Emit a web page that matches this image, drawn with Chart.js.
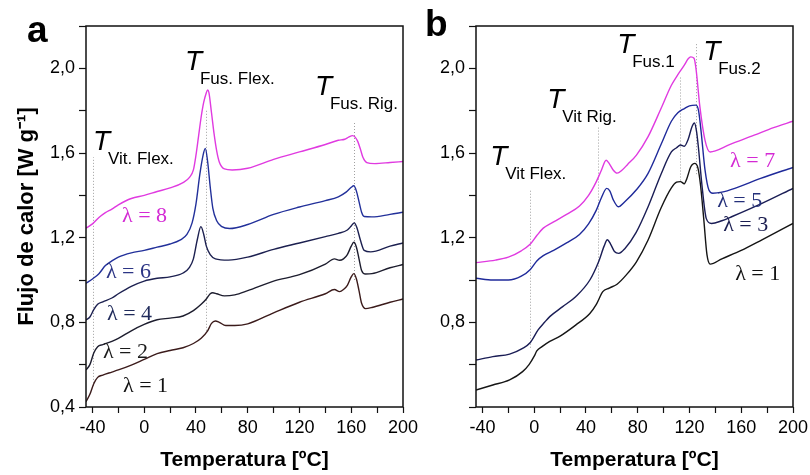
<!DOCTYPE html>
<html>
<head>
<meta charset="utf-8">
<script src="https://cdn.jsdelivr.net/npm/chart.js@4.4.1/dist/chart.umd.min.js"></script>
<style>
  html, body { margin: 0; padding: 0; background: #fff; }
  #wrap { position: relative; width: 810px; height: 475px; overflow: hidden; }
  .panel { position: absolute; top: 0; height: 475px; }
  #panelA { left: 0; width: 430px; }
  #panelB { left: 410px; width: 400px; }
</style>
</head>
<body>
<div id="wrap">
  <div class="panel" id="panelA"><canvas id="chartA" width="430" height="475"></canvas></div>
  <div class="panel" id="panelB"><canvas id="chartB" width="400" height="475"></canvas></div>
</div>
<script>
// ---- panel a : DSC curves, lambda = 8, 6, 4, 2, 1
const tempA8 = [-45,-40,-35,-30,-25,-20,-10,0,10,20,30,35,38,40,42,44,46,48,49,50,52,54,56,58,62,68,80,100,120,140,150,155,158,161,163,165,167,169,172,178,190,200];
const flowA8 = [1.245,1.265,1.295,1.318,1.335,1.355,1.385,1.400,1.418,1.435,1.460,1.485,1.520,1.590,1.680,1.770,1.840,1.885,1.898,1.885,1.790,1.690,1.610,1.558,1.525,1.520,1.528,1.570,1.605,1.640,1.660,1.665,1.675,1.682,1.675,1.655,1.620,1.580,1.555,1.550,1.555,1.560];

const tempA6 = [-45,-40,-35,-30,-25,-20,-10,0,10,20,28,33,37,40,43,45.5,47.2,49,51,53,56,60,66,80,100,120,140,150,156,160,162,164,166,168,170,176,190,200];
const flowA6 = [0.984,1.005,1.030,1.068,1.090,1.108,1.128,1.140,1.155,1.170,1.190,1.215,1.270,1.360,1.500,1.590,1.622,1.560,1.440,1.340,1.280,1.252,1.243,1.262,1.310,1.345,1.375,1.393,1.415,1.438,1.445,1.420,1.370,1.320,1.300,1.298,1.310,1.320];

const tempA4 = [-45,-42,-39,-36,-32,-25,-20,-10,0,10,20,30,35,38,41,43.8,46,48,51,55,65,80,100,120,140,150,157,160,162.3,164.5,167,170,175,190,200];
const flowA4 = [0.811,0.825,0.860,0.885,0.897,0.915,0.935,0.970,0.995,1.008,1.015,1.033,1.060,1.100,1.190,1.252,1.215,1.160,1.120,1.100,1.094,1.108,1.145,1.175,1.205,1.220,1.236,1.255,1.270,1.245,1.190,1.140,1.133,1.160,1.175];

const tempA2 = [-45,-42,-39,-36,-32,-25,-20,-10,0,10,20,30,38,44,48,51,53,56,62,70,80,100,120,140,147,151,154,157,160,162,164,166,168,171,176,190,200];
const flowA2 = [0.575,0.600,0.655,0.685,0.695,0.710,0.724,0.760,0.790,0.812,0.820,0.830,0.855,0.885,0.910,0.935,0.940,0.935,0.925,0.930,0.950,0.995,1.025,1.075,1.100,1.093,1.100,1.120,1.160,1.178,1.155,1.100,1.045,1.028,1.030,1.058,1.073];

const tempA1 = [-45,-42,-39,-36,-32,-25,-20,-10,0,10,20,30,38,44,49,52,55,58,63,70,80,100,120,140,147,151,154,157,160,162,164,166,168,171,176,190,200];
const flowA1 = [0.425,0.460,0.510,0.540,0.551,0.565,0.575,0.598,0.625,0.652,0.667,0.680,0.700,0.725,0.760,0.795,0.806,0.800,0.785,0.785,0.793,0.845,0.895,0.935,0.955,0.945,0.955,0.975,1.015,1.030,1.005,0.950,0.890,0.865,0.870,0.895,0.910];

// ---- panel b : lambda = 7, 5, 3, 1
const tempB7 = [-45,-30,-20,-10,-3,2,7,15,25,35,42,48,52,55.6,58,61,64,68,72,79,88,98,106,111,116,119,121,123.5,125,128,132,136,140,150,170,185,200];
const flowB7 = [1.082,1.094,1.108,1.138,1.170,1.210,1.245,1.275,1.310,1.350,1.400,1.465,1.520,1.566,1.550,1.520,1.505,1.520,1.545,1.590,1.677,1.810,1.920,1.970,2.015,2.045,2.054,2.048,2.000,1.820,1.660,1.605,1.610,1.637,1.684,1.720,1.750];

const tempB5 = [-45,-32,-20,-10,-3,2,7,15,25,35,42,48,52,56,58.5,61,65,70,78.8,88,98,106,111,116,120,125,127,129,132,135,138,145,155,175,200];
const flowB5 = [1.008,1.000,1.000,1.018,1.050,1.090,1.115,1.140,1.175,1.215,1.265,1.330,1.390,1.433,1.420,1.380,1.346,1.370,1.425,1.504,1.640,1.750,1.790,1.810,1.823,1.826,1.800,1.700,1.520,1.425,1.410,1.415,1.433,1.480,1.532];

const tempB3 = [-45,-32,-19,-9,-3,3,8,12,22,32,43,50,54,56.5,59,62,65.4,70,78.8,88,98,106,110,113,116,119,122,123.8,125.5,127,129.5,133,137,145,153,176,200];
const flowB3 = [0.622,0.638,0.650,0.677,0.705,0.764,0.800,0.827,0.874,0.921,1.000,1.090,1.160,1.190,1.170,1.135,1.126,1.148,1.225,1.346,1.500,1.605,1.625,1.638,1.632,1.665,1.725,1.742,1.700,1.620,1.456,1.290,1.267,1.280,1.300,1.362,1.433];

const tempB1 = [-45,-32,-19,-9,-4,0,2,6,12,20,32,43,48,53,58,64,71,79,88,98,106,110,113,116,118,121,124,126.5,128.5,131,133.5,136,145,160,176,200];
const flowB1 = [0.480,0.504,0.528,0.567,0.600,0.640,0.665,0.685,0.710,0.735,0.787,0.842,0.885,0.945,0.962,0.980,1.023,1.086,1.189,1.340,1.435,1.462,1.465,1.455,1.480,1.535,1.551,1.530,1.450,1.290,1.120,1.075,1.100,1.140,1.190,1.267];

// transition markers: [temperature, from flow, to flow]
const guidesA = [[-39.4, 0.50, 1.58], [47.7, 0.76, 1.80], [162, 1.00, 1.75]];
const guidesB = [[-3.6, 0.68, 1.43], [49.2, 0.95, 1.72], [112.8, 1.47, 1.96], [125.2, 1.50, 2.12]];

const SANS = '"Liberation Sans", Arial, sans-serif';
const SERIF = '"Liberation Serif", "Times New Roman", serif';

function series(temps, flows, color) {
  return {
    data: temps.map((t, i) => ({ x: t, y: flows[i] })),
    borderColor: color,
    borderWidth: 1.4,
    pointRadius: 0,
    cubicInterpolationMode: 'monotone',
    fill: false
  };
}

const decor = {
  id: 'decor',
  beforeDatasetsDraw(chart, args, opts) {
    const { ctx, scales: { x, y } } = chart;
    ctx.save();
    ctx.strokeStyle = '#a0a0a0';
    ctx.lineWidth = 1;
    ctx.setLineDash([1, 2]);
    opts.guides.forEach(g => {
      const px = Math.round(x.getPixelForValue(g[0])) + 0.5;
      ctx.beginPath();
      ctx.moveTo(px, y.getPixelForValue(g[1]));
      ctx.lineTo(px, y.getPixelForValue(g[2]));
      ctx.stroke();
    });
    ctx.restore();
  },
  afterDraw(chart, args, opts) {
    const { ctx, chartArea: a, scales: { x, y } } = chart;
    ctx.save();
    ctx.strokeStyle = '#111';
    ctx.lineWidth = 1.5;
    ctx.strokeRect(a.left, a.top, a.right - a.left, a.bottom - a.top);

    ctx.textBaseline = 'alphabetic';
    ctx.textAlign = 'left';
    ctx.fillStyle = '#000';
    opts.marks.forEach(m => {
      const px = x.getPixelForValue(m.at[0]);
      const py = y.getPixelForValue(m.at[1]);
      ctx.font = 'italic 28px ' + SANS;
      ctx.fillText('T', px, py);
      ctx.font = '17px ' + SANS;
      ctx.fillText(m.sub, px + 15, py + 14);
    });

    ctx.font = '22px ' + SERIF;
    opts.lambdas.forEach(l => {
      ctx.fillStyle = l.color;
      ctx.fillText('\u03bb = ' + l.n, x.getPixelForValue(l.at[0]), y.getPixelForValue(l.at[1]));
    });

    ctx.fillStyle = '#000';
    ctx.font = 'bold 37px ' + SANS;
    ctx.fillText(opts.letter, a.left + opts.letterAt[0], a.top + opts.letterAt[1]);
    ctx.restore();
  }
};

function scalesFor(axisWidth, showLowest, yTitle) {
  return {
    x: {
      type: 'linear',
      min: -45,
      max: 200,
      ticks: {
        stepSize: 20,
        includeBounds: false,
        autoSkip: false,
        maxRotation: 0,
        padding: 4,
        color: '#000',
        font: { family: SANS, size: 18 },
        callback: v => (v % 40 === 0 ? String(v) : '')
      },
      grid: { drawOnChartArea: false, drawTicks: true, tickLength: 6, tickColor: '#111', tickWidth: 1.2 },
      border: { display: false },
      title: {
        display: true,
        text: 'Temperatura [\u00baC]',
        color: '#000',
        font: { family: SANS, size: 21, weight: 'bold' },
        padding: { top: 0, bottom: 2 }
      },
      afterFit: s => { s.height = 68; s.paddingLeft = 0; s.paddingRight = 0; }
    },
    y: {
      type: 'linear',
      min: 0.4,
      max: 2.2,
      ticks: {
        stepSize: 0.2,
        includeBounds: false,
        autoSkip: false,
        padding: 4,
        color: '#000',
        font: { family: SANS, size: 18 },
        callback: v => {
          const k = Math.round(v / 0.4);
          if (Math.abs(k * 0.4 - v) > 1e-6) return '';
          if (!showLowest && k === 1) return '';
          return v.toFixed(1).replace('.', ',');
        }
      },
      grid: { drawOnChartArea: false, drawTicks: true, tickLength: 7, tickColor: '#111', tickWidth: 1.2 },
      border: { display: false },
      title: {
        display: !!yTitle,
        text: yTitle || '',
        color: '#000',
        font: { family: SANS, size: 22, weight: 'bold' },
        padding: { top: 14, bottom: 0 }
      },
      afterFit: s => { s.width = axisWidth; s.paddingTop = 0; s.paddingBottom = 0; }
    }
  };
}

new Chart(document.getElementById('chartA'), {
  type: 'line',
  data: {
    datasets: [
      series(tempA8, flowA8, '#e03ae0'),
      series(tempA6, flowA6, '#22309a'),
      series(tempA4, flowA4, '#1c2050'),
      series(tempA2, flowA2, '#1d1d2e'),
      series(tempA1, flowA1, '#3b1b1b')
    ]
  },
  options: {
    responsive: false,
    animation: false,
    layout: { padding: { left: 0, right: 27, top: 26, bottom: 0 } },
    scales: scalesFor(86, true, 'Flujo de calor [W g\u207b\u00b9]'),
    plugins: {
      legend: { display: false },
      tooltip: { enabled: false },
      decor: {
        guides: guidesA,
        letter: 'a',
        letterAt: [-59, 16],
        marks: [
          { sub: 'Vit. Flex.', at: [-39.6, 1.614] },
          { sub: 'Fus. Flex.', at: [31.5, 1.991] },
          { sub: 'Fus. Rig.', at: [131.9, 1.873] }
        ],
        lambdas: [
          { n: 8, color: '#d42ad4', at: [-17.2, 1.274] },
          { n: 6, color: '#2c3585', at: [-29.6, 1.009] },
          { n: 4, color: '#1f2a5a', at: [-28.8, 0.811] },
          { n: 2, color: '#1a1a1a', at: [-31.9, 0.631] },
          { n: 1, color: '#111111', at: [-16.4, 0.471] }
        ]
      }
    }
  },
  plugins: [decor]
});

new Chart(document.getElementById('chartB'), {
  type: 'line',
  data: {
    datasets: [
      series(tempB7, flowB7, '#e03ae0'),
      series(tempB5, flowB5, '#1f2a9a'),
      series(tempB3, flowB3, '#1a1d55'),
      series(tempB1, flowB1, '#151515')
    ]
  },
  options: {
    responsive: false,
    animation: false,
    layout: { padding: { left: 0, right: 17, top: 26, bottom: 0 } },
    scales: scalesFor(66, false, null),
    plugins: {
      legend: { display: false },
      tooltip: { enabled: false },
      decor: {
        guides: guidesB,
        letter: 'b',
        letterAt: [-51, 10],
        marks: [
          { sub: 'Vit Flex.', at: [-34, 1.543] },
          { sub: 'Vit Rig.', at: [10.1, 1.812] },
          { sub: 'Fus.1', at: [64.1, 2.072] },
          { sub: 'Fus.2', at: [130.6, 2.039] }
        ],
        lambdas: [
          { n: 7, color: '#d42ad4', at: [151.4, 1.533] },
          { n: 5, color: '#24307a', at: [141.4, 1.344] },
          { n: 3, color: '#1a1d50', at: [146, 1.231] },
          { n: 1, color: '#111111', at: [155.3, 1.0] }
        ]
      }
    }
  },
  plugins: [decor]
});
</script>
</body>
</html>
